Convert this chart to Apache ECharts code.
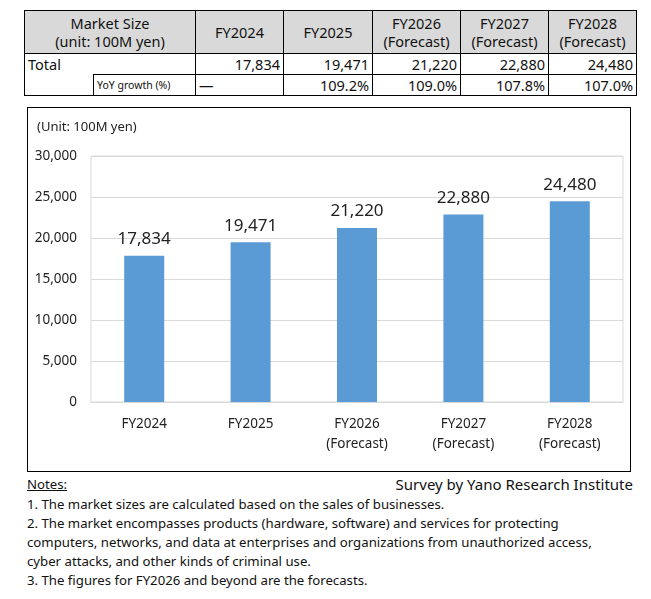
<!DOCTYPE html>
<html>
<head>
<meta charset="utf-8">
<script src="https://cdn.jsdelivr.net/npm/echarts@6/dist/echarts.min.js"></script>
<style>
  body { margin:0; background:#fff; font-family:"Noto Sans", sans-serif; color:#111; }
  #tbl { position:absolute; left:24px; top:10px; border-collapse:collapse; font-size:14.5px; table-layout:fixed; }
  #tbl td { border:1px solid #000; padding:0 3px; line-height:18px; white-space:nowrap; font-weight:400; }
  #tbl tr.hd td { background:#d9d9d9; text-align:center; height:42px; }
  #tbl tr.rw td { height:20px; text-align:right; }
  #box { position:absolute; left:27px; top:107px; width:602px; height:363px; border:1.5px solid #000; }
  #chart { width:602px; height:363px; }
  .note { position:absolute; left:27px; font-size:13.2px; line-height:19px; }
  #src { position:absolute; right:18px; top:474px; font-size:15px; }
</style>
</head>
<body>
<table id="tbl"></table>
<div id="box"><div id="chart"></div></div>
<div class="note" style="top:475px;text-decoration:underline;">Notes:</div>
<div id="src">Survey by Yano Research Institute</div>
<div class="note" id="notes" style="top:495px;"></div>
<script>
// 数据
var years = ['FY2024', 'FY2025', 'FY2026', 'FY2027', 'FY2028'];
var forecast = [false, false, true, true, true];
var marketSize = [17834, 19471, 21220, 22880, 24480];
var yoyGrowth = ['—', '109.2%', '109.0%', '107.8%', '107.0%'];
var yTicks = [0, 5000, 10000, 15000, 20000, 25000, 30000];
var notes = [
    '1. The market sizes are calculated based on the sales of businesses.',
    '2. The market encompasses products (hardware, software) and services for protecting',
    'computers, networks, and data at enterprises and organizations from unauthorized access,',
    'cyber attacks, and other kinds of criminal use.',
    '3. The figures for FY2026 and beyond are the forecasts.'
];

function fmt(v){ return v.toLocaleString('en-US'); }

// 表格
var html = '<colgroup><col style="width:69px"><col style="width:102px">';
for (var i = 0; i < years.length; i++) html += '<col style="width:' + (i == 1 ? 89 : 88) + 'px">';
html += '</colgroup>';
html += '<tr class="hd"><td colspan="2">Market Size<br>(unit: 100M yen)</td>';
for (var i = 0; i < years.length; i++) {
    html += '<td>' + years[i] + (forecast[i] ? '<br>(Forecast)' : '') + '</td>';
}
html += '</tr><tr class="rw"><td colspan="2" style="text-align:left;border-bottom:none">Total</td>';
for (var i = 0; i < marketSize.length; i++) html += '<td>' + fmt(marketSize[i]) + '</td>';
html += '</tr><tr class="rw"><td style="border-top:none"></td><td style="text-align:left;font-size:10.5px">YoY growth (%)</td>';
for (var i = 0; i < yoyGrowth.length; i++) {
    html += '<td' + (i == 0 ? ' style="text-align:left"' : '') + '>' + yoyGrowth[i] + '</td>';
}
html += '</tr>';
document.getElementById('tbl').innerHTML = html;
document.getElementById('notes').innerHTML = notes.join('<br>');

// 图表
var myChart = echarts.init(document.getElementById('chart'));
var option = {
    animation: false,
    textStyle: { fontFamily: 'Noto Sans' },
    graphic: [{
        type: 'text', left: 9, top: 13,
        style: { text: '(Unit: 100M yen)', fontSize: 13, fill: '#222', fontFamily: 'Noto Sans' }
    }, {
        type: 'rect', shape: { x: 63, y: 48, width: 532, height: 246 },
        style: { fill: 'none', stroke: '#d9d9d9', lineWidth: 1 }, z: -1
    }],
    grid: { left: 63, right: 7, top: 48, bottom: 69 },
    xAxis: {
        type: 'category',
        data: years.map(function(y, i){ return y + (forecast[i] ? '\n(Forecast)' : ''); }),
        axisLine: { lineStyle: { color: '#d9d9d9' } },
        axisTick: { show: false },
        axisLabel: { color: '#222', fontSize: 13.5, lineHeight: 20, margin: 12 }
    },
    yAxis: {
        type: 'value',
        min: yTicks[0], max: yTicks[yTicks.length - 1], interval: 5000,
        axisLine: { show: false },
        axisTick: { show: false },
        axisLabel: { color: '#222', fontSize: 13.5, margin: 14, formatter: function(v){ return fmt(v); } },
        splitLine: { lineStyle: { color: '#d9d9d9' } }
    },
    series: [{
        type: 'bar',
        data: marketSize,
        barWidth: 40,
        itemStyle: { color: '#5b9bd5' },
        label: {
            show: true, position: 'top', distance: 8,
            color: '#222', fontSize: 17,
            formatter: function(p){ return fmt(p.value); }
        }
    }]
};
myChart.setOption(option);
</script>
</body>
</html>
